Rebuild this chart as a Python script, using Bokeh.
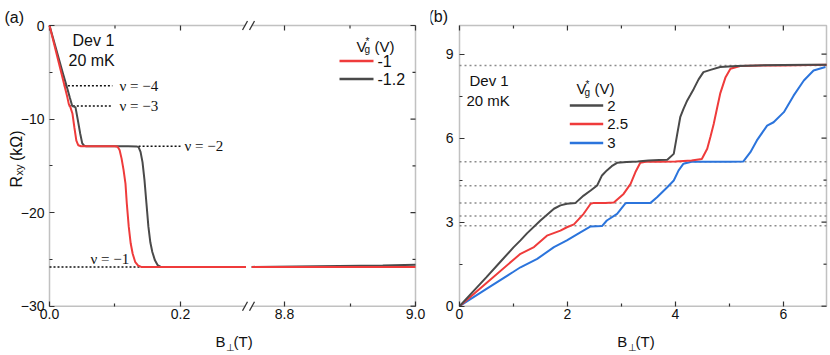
import math
from bokeh.plotting import figure
from bokeh.models import Range1d, FixedTicker, Label, BoxAnnotation
from bokeh.layouts import row
from bokeh.embed import file_html
from bokeh.resources import INLINE

# ---------------- Panel (a) data ----------------
# low-field segment (B in T) and high-field segment (B in T), R_xy in kOhm
a_red_x_low = [0.0, 0.010, 0.020, 0.0229, 0.027, 0.0295, 0.032, 0.035, 0.038, 0.041, 0.044, 0.048,
               0.060, 0.080, 0.100, 0.104, 0.107, 0.110, 0.113, 0.116, 0.118, 0.121, 0.124, 0.127,
               0.131, 0.135, 0.140, 0.200, 0.250, 0.300]
a_red_y_low = [0.0, -2.8, -5.6, -6.45, -7.6, -8.4, -8.75, -9.4, -10.9, -12.3, -12.8, -12.9,
               -12.9, -12.9, -12.9, -12.95, -13.3, -14.2, -15.4, -16.9, -19.0, -21.5, -23.3, -24.4,
               -25.3, -25.65, -25.8, -25.8, -25.8, -25.8]
a_red_x_high = [8.75, 8.85, 8.95, 9.0]
a_red_y_high = [-25.8, -25.8, -25.8, -25.8]

a_gray_x_low = [0.0, 0.010, 0.020, 0.026, 0.031, 0.0347, 0.037, 0.0397, 0.043, 0.047, 0.050, 0.053,
                0.056, 0.080, 0.100, 0.120, 0.133, 0.136, 0.139, 0.142, 0.145, 0.148, 0.151, 0.154,
                0.157, 0.161, 0.165, 0.170, 0.200, 0.250, 0.300]
a_gray_y_low = [0.0, -2.5, -5.0, -6.45, -7.7, -8.6, -8.65, -8.75, -10.0, -11.6, -12.6, -12.85,
                -12.9, -12.9, -12.9, -12.9, -12.92, -13.0, -13.5, -14.6, -16.5, -19.0, -21.5, -23.2,
                -24.2, -25.1, -25.6, -25.8, -25.8, -25.8, -25.8]
a_gray_x_high = [8.75, 8.85, 8.95, 9.0]
a_gray_y_high = [-25.8, -25.72, -25.64, -25.58]

a_legend_labels = ["-1", "-1.2"]
# filling-factor reference levels: label, R level, line start, line end (B in T)
a_nu_labels = ["\u03bd = \u22124", "\u03bd = \u22123", "\u03bd = \u22122", "\u03bd = \u22121"]
a_nu_levels = [-6.45, -8.6, -12.9, -25.8]
a_nu_x0 = [0.022, 0.0295, 0.136, 0.0]
a_nu_x1 = [0.096, 0.096, 0.200, 0.300]
a_nu1_high = [8.75, 9.0]

a_xtick_values = [0.0, 0.2, 8.8, 9.0]
a_xtick_labels = ["0.0", "0.2", "8.8", "9.0"]
a_xminor_values = [0.1, 8.9]
a_ytick_values = [0, -10, -20, -30]
a_yminor_values = [-5, -15, -25]

# ---------------- Panel (b) data ----------------
b_gray_x = [0.0, 0.25, 0.5, 0.75, 1.0, 1.13, 1.25, 1.5, 1.75, 1.87, 1.99, 2.15, 2.30, 2.43, 2.55,
            2.64, 2.73, 2.82, 2.92, 3.1, 3.3, 3.5, 3.7, 3.85, 3.97, 4.03, 4.09, 4.15, 4.22, 4.28,
            4.34, 4.43, 4.52, 4.65, 4.83, 5.14, 5.5, 6.0, 6.5, 6.8]
b_gray_y = [0.0, 0.52, 1.04, 1.57, 2.1, 2.35, 2.6, 3.06, 3.48, 3.6, 3.66, 3.69, 3.95, 4.13, 4.31,
            4.67, 4.85, 5.0, 5.12, 5.15, 5.17, 5.2, 5.22, 5.23, 5.44, 6.1, 6.75, 7.05, 7.35, 7.55,
            7.76, 8.1, 8.36, 8.44, 8.54, 8.58, 8.6, 8.61, 8.62, 8.62]

b_red_x = [0.0, 0.5, 1.0, 1.13, 1.38, 1.62, 1.87, 1.99, 2.12, 2.30, 2.43, 2.49, 2.7, 2.86, 3.04,
           3.17, 3.26, 3.35, 3.45, 3.7, 4.0, 4.3, 4.49, 4.59, 4.65, 4.71, 4.77, 4.83, 4.93, 5.02,
           5.2, 5.6, 6.0, 6.5, 6.8]
b_red_y = [0.0, 0.83, 1.66, 1.87, 2.11, 2.52, 2.70, 2.82, 2.92, 3.30, 3.66, 3.69, 3.69, 3.70, 4.01,
           4.37, 4.79, 5.12, 5.16, 5.16, 5.17, 5.2, 5.26, 5.62, 6.05, 6.51, 7.05, 7.59, 8.18, 8.48,
           8.58, 8.6, 8.6, 8.61, 8.62]

b_blue_x = [0.0, 0.5, 1.0, 1.13, 1.44, 1.75, 1.99, 2.24, 2.43, 2.64, 2.73, 2.92, 3.07, 3.10, 3.3,
            3.54, 3.66, 3.85, 3.97, 4.06, 4.15, 4.3, 4.6, 5.0, 5.26, 5.39, 5.51, 5.70, 5.82, 6.01,
            6.19, 6.38, 6.56, 6.78]
b_blue_y = [0.0, 0.62, 1.23, 1.39, 1.69, 2.11, 2.35, 2.64, 2.85, 2.86, 3.06, 3.30, 3.66, 3.69, 3.69,
            3.69, 3.89, 4.25, 4.49, 4.85, 5.09, 5.16, 5.16, 5.16, 5.17, 5.5, 5.92, 6.45, 6.57, 6.93,
            7.52, 8.06, 8.42, 8.54]

b_legend_labels = ["2", "2.5", "3"]
b_levels = [8.6, 5.16, 4.3, 3.69, 3.22, 2.87]
b_xtick_values = [0, 2, 4, 6]
b_xminor_values = [1, 3, 5]
b_ytick_values = [0, 3, 6, 9]
b_yminor_values = [1.5, 4.5, 7.5]

# ---------------- styles & geometry ----------------
RED = "#ef3b3b"
GRAY = "#4a4a4a"
BLUE = "#2b74dc"
AX = "#333333"
TXT = "#111111"
SANS = "Liberation Sans"
SERIF = "Liberation Serif"
H = 354

# panel (a): canvas 430 wide, axes box in canvas pixels
A_W = 430
A_L, A_R, A_T, A_B = 49.0, 415.0, 25.0, 305.7
A_UMAX = 0.5588          # box right edge in mapped units
A_YMIN, A_YMAX = -30.0, 0.0
A_SHIFT = 8.4412         # high-field segment shift for broken axis
A_BREAK_PX = 248.0
a_sx = (A_R - A_L) / A_UMAX
a_sy = (A_B - A_T) / (A_YMAX - A_YMIN)

# panel (b): canvas 399 wide, starts at page x 430
B_OFF = 430
B_W = 399
B_L, B_R, B_T, B_B = 29.0, 396.0, 25.0, 305.7
B_XMAX, B_YMAX = 6.8, 10.025
b_sx = (B_R - B_L) / B_XMAX
b_sy = (B_B - B_T) / B_YMAX


def ua(x):
    return x if x < 1.0 else x - A_SHIFT


def apt(px, py):
    return (px - A_L) / a_sx, A_YMAX - (py - A_T) / a_sy


def bpt(px, py):
    return (px - B_OFF - B_L) / b_sx, B_YMAX - (py - B_T) / b_sy


def lab(p, pt, text, size, align="left", baseline="middle", font=SANS, angle=0.0,
        style="normal", color=TXT):
    l = Label(x=pt[0], y=pt[1], text=text, text_font=font, text_font_size=f"{size}px",
              text_align=align, text_baseline=baseline, angle=angle, text_color=color,
              text_font_style=style)
    p.add_layout(l)
    return l


def style_axis(ax, standoff):
    ax.axis_line_color = None
    ax.major_tick_line_color = AX
    ax.minor_tick_line_color = AX
    ax.major_tick_line_width = 1.2
    ax.minor_tick_line_width = 1.2
    ax.major_tick_in = 5
    ax.major_tick_out = 0
    ax.minor_tick_in = 3
    ax.minor_tick_out = 0
    ax.major_label_text_font = SANS
    ax.major_label_text_color = TXT
    ax.major_label_text_font_size = "14px"
    ax.major_label_standoff = standoff
    ax.axis_label = None


def base_fig(width, xr, yr):
    p = figure(width=width, height=H, x_range=xr, y_range=yr, output_backend="svg",
               toolbar_location=None, title=None, min_border=0, min_border_left=0,
               min_border_right=0, min_border_top=0, min_border_bottom=0)
    p.grid.visible = False
    p.outline_line_color = None
    p.background_fill_color = "white"
    p.border_fill_color = "white"
    return p


# ================= Panel (a) =================
a_x0, a_y0 = apt(0, H)
a_x1, a_y1 = apt(A_W, 0)
pa = base_fig(A_W, Range1d(a_x0, a_x1), Range1d(a_y0, a_y1))

a_xt = FixedTicker(ticks=[ua(v) for v in a_xtick_values], minor_ticks=[ua(v) for v in a_xminor_values])
a_yt = FixedTicker(ticks=a_ytick_values, minor_ticks=a_yminor_values)
pa.xaxis.ticker = a_xt
pa.yaxis.ticker = a_yt
pa.xaxis.major_label_overrides = {ua(v): s for v, s in zip(a_xtick_values, a_xtick_labels)}
pa.xaxis.fixed_location = A_YMIN
pa.yaxis.fixed_location = 0.0
pa.xaxis.bounds = (0.0, A_UMAX)
pa.yaxis.bounds = (A_YMIN, A_YMAX)
style_axis(pa.xaxis[0], 3)
style_axis(pa.yaxis[0], 5)

pa.add_layout(BoxAnnotation(left=0.0, right=A_UMAX, bottom=A_YMIN, top=A_YMAX, level="underlay",
                            fill_alpha=0, line_color=AX, line_width=1.5))
# mirrored inward ticks on top and right
a_top_maj = [ua(v) for v in a_xtick_values]
a_top_min = [ua(v) for v in a_xminor_values]
pa.segment(a_top_maj, [A_YMAX] * 4, a_top_maj, [A_YMAX - 5 / a_sy] * 4, line_color=AX, line_width=1.2)
pa.segment(a_top_min, [A_YMAX] * 2, a_top_min, [A_YMAX - 3 / a_sy] * 2, line_color=AX, line_width=1.2)
pa.segment([A_UMAX] * 4, a_ytick_values, [A_UMAX - 5 / a_sx] * 4, a_ytick_values, line_color=AX, line_width=1.2)
pa.segment([A_UMAX] * 3, a_yminor_values, [A_UMAX - 3 / a_sx] * 3, a_yminor_values, line_color=AX, line_width=1.2)

# axis-break marks ("//") on top and bottom edges
for edge_py in (A_T, A_B):
    q0 = apt(A_BREAK_PX - 3, edge_py - 2.5)
    q1 = apt(A_BREAK_PX + 3, edge_py + 2.5)
    pa.quad(left=[q0[0]], right=[q1[0]], top=[q0[1]], bottom=[q1[1]],
            fill_color="white", line_color=None)
    s1a, s1b = apt(A_BREAK_PX - 6, edge_py + 4.5), apt(A_BREAK_PX - 1, edge_py - 4.5)
    s2a, s2b = apt(A_BREAK_PX + 1, edge_py + 4.5), apt(A_BREAK_PX + 6, edge_py - 4.5)
    pa.segment([s1a[0], s2a[0]], [s1a[1], s2a[1]], [s1b[0], s2b[0]], [s1b[1], s2b[1]],
               line_color=AX, line_width=1.3)

# reference dotted lines
for lvl, x0, x1 in zip(a_nu_levels, a_nu_x0, a_nu_x1):
    pa.line([ua(x0), ua(x1)], [lvl, lvl], line_color="#111111", line_width=1.5, line_dash="2 2")
pa.line([ua(v) for v in a_nu1_high], [a_nu_levels[3]] * 2, line_color="#111111",
        line_width=1.5, line_dash="2 2")

# curves
pa.line([ua(v) for v in a_gray_x_low], a_gray_y_low, line_color=GRAY, line_width=2)
pa.line([ua(v) for v in a_gray_x_high], a_gray_y_high, line_color=GRAY, line_width=2)
pa.line([ua(v) for v in a_red_x_low], a_red_y_low, line_color=RED, line_width=2)
pa.line([ua(v) for v in a_red_x_high], a_red_y_high, line_color=RED, line_width=2)

# nu labels
lab(pa, (ua(0.107), a_nu_levels[0]), a_nu_labels[0], 15, font=SERIF)
lab(pa, (ua(0.107), a_nu_levels[1]), a_nu_labels[1], 15, font=SERIF)
lab(pa, (ua(0.206), a_nu_levels[2]), a_nu_labels[2], 15, font=SERIF)
lab(pa, apt(90, 258.3), a_nu_labels[3], 15, font=SERIF)

# texts
lab(pa, apt(4, 17), "(a)", 16)
lab(pa, apt(72, 40), "Dev 1", 16)
lab(pa, apt(68, 60), "20 mK", 16)

# legend (a)
lab(pa, apt(356, 45.5), "V", 15, baseline="alphabetic")
lab(pa, apt(365, 41), "*", 10, baseline="alphabetic")
lab(pa, apt(364, 49), "g", 10, baseline="alphabetic")
lab(pa, apt(374, 45.5), "(V)", 15, baseline="alphabetic")
for py, col, txt in zip([60.5, 78.5], [RED, GRAY], a_legend_labels):
    xa, ya = apt(339, py)
    xb, _ = apt(373, py)
    pa.line([xa, xb], [ya, ya], line_color=col, line_width=2.5)
    lab(pa, apt(377, py), txt, 16)

# axis titles (a)
lab(pa, apt(215, 340.7), "B", 15, baseline="alphabetic")
lab(pa, apt(225.5, 346.5), "\u22a5", 10, baseline="alphabetic")
lab(pa, apt(233, 340.7), "(T)", 15, baseline="alphabetic")
lab(pa, apt(15.5, 187), "R", 16, baseline="alphabetic", angle=math.pi / 2)
lab(pa, apt(18.5, 175), "xy", 11, baseline="alphabetic", angle=math.pi / 2)
lab(pa, apt(15.5, 160.5), "(k\u03a9)", 16, baseline="alphabetic", angle=math.pi / 2)

# ================= Panel (b) =================
b_x0, b_y0 = bpt(B_OFF, H)
b_x1, b_y1 = bpt(B_OFF + B_W, 0)
pb = base_fig(B_W, Range1d(b_x0, b_x1), Range1d(b_y0, b_y1))
pb.xaxis.ticker = FixedTicker(ticks=b_xtick_values, minor_ticks=b_xminor_values)
pb.yaxis.ticker = FixedTicker(ticks=b_ytick_values, minor_ticks=b_yminor_values)
pb.xaxis.fixed_location = 0.0
pb.yaxis.fixed_location = 0.0
pb.xaxis.bounds = (0.0, B_XMAX)
pb.yaxis.bounds = (0.0, B_YMAX)
style_axis(pb.xaxis[0], 3)
style_axis(pb.yaxis[0], 6)

pb.add_layout(BoxAnnotation(left=0.0, right=B_XMAX, bottom=0.0, top=B_YMAX, level="underlay",
                            fill_alpha=0, line_color=AX, line_width=1.5))
for lvl in b_levels:
    pb.line([0.0, B_XMAX], [lvl, lvl], line_color="#8c8c8c", line_width=1.5, line_dash="2 3")

pb.segment(b_xtick_values, [B_YMAX] * 4, b_xtick_values, [B_YMAX - 5 / b_sy] * 4, line_color=AX, line_width=1.2)
pb.segment(b_xminor_values, [B_YMAX] * 3, b_xminor_values, [B_YMAX - 3 / b_sy] * 3, line_color=AX, line_width=1.2)
pb.segment([B_XMAX] * 4, b_ytick_values, [B_XMAX - 5 / b_sx] * 4, b_ytick_values, line_color=AX, line_width=1.2)
pb.segment([B_XMAX] * 3, b_yminor_values, [B_XMAX - 3 / b_sx] * 3, b_yminor_values, line_color=AX, line_width=1.2)

pb.line(b_blue_x, b_blue_y, line_color=BLUE, line_width=2)
pb.line(b_red_x, b_red_y, line_color=RED, line_width=2)
pb.line(b_gray_x, b_gray_y, line_color=GRAY, line_width=2)

lab(pb, bpt(428, 16), "(b)", 16)
lab(pb, bpt(469, 80), "Dev 1", 15)
lab(pb, bpt(466, 100), "20 mK", 15)

lab(pb, bpt(576, 88.3), "V", 15, baseline="alphabetic")
lab(pb, bpt(585, 83.5), "*", 10, baseline="alphabetic")
lab(pb, bpt(584, 92), "g", 10, baseline="alphabetic")
lab(pb, bpt(594, 88.3), "(V)", 15, baseline="alphabetic")
for py, col, txt in zip([105, 123.5, 142.5], [GRAY, RED, BLUE], b_legend_labels):
    xa, ya = bpt(569.3, py)
    xb, _ = bpt(602.7, py)
    pb.line([xa, xb], [ya, ya], line_color=col, line_width=2.5)
    lab(pb, bpt(606.7, py), txt, 15)

lab(pb, bpt(616.7, 340.5), "B", 15, baseline="alphabetic")
lab(pb, bpt(627, 346.5), "\u22a5", 10, baseline="alphabetic")
lab(pb, bpt(635, 340.5), "(T)", 15, baseline="alphabetic")

layout = row(pa, pb)
open("out.html", "w").write(file_html(layout, INLINE))
